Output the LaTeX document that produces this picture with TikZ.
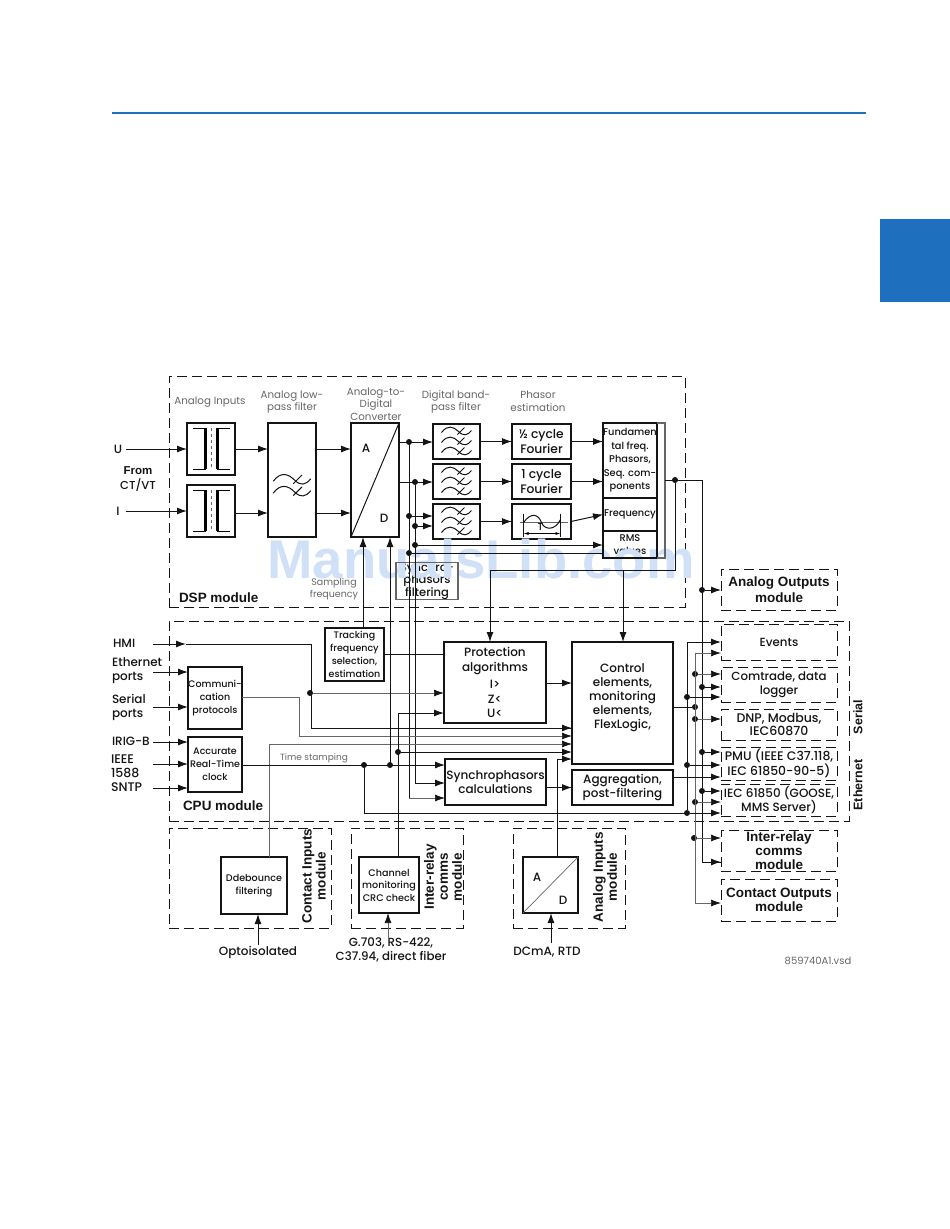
\documentclass[tikz,border=0pt]{standalone}
\usepackage{fontspec}
\usepackage{xcolor}
\usepackage{tikz}
\usetikzlibrary{arrows.meta,positioning}
\setmainfont{Poppins Medium}
\newfontfamily\lightfont{Poppins}
\newfontfamily\headfont{Liberation Sans}
\definecolor{navy}{HTML}{1F6FBF}
\definecolor{ink}{HTML}{141414}
\definecolor{wmarkblue}{HTML}{CFE0F7}
\definecolor{soft}{HTML}{666666}
\newcommand{\tildeat}[2]{%
  \draw[wave,shift={(#1,#2)}] (-15,1) .. controls (-9,-7) and (-3,-5) .. (2,0)
    .. controls (7,5) and (11,4) .. (15,-1) (1,3) -- (8,-4);}
\begin{document}
\begin{tikzpicture}[
  x=1pt,y=-1pt,
  inner sep=0pt,outer sep=0pt,
  node distance=10pt and 16pt,
  box/.style={draw=ink,line width=1.4pt,fill=white,align=center,text=ink,
    font=\fontsize{12}{14}\selectfont},
  smallbox/.style={box,font=\fontsize{9.5}{13}\selectfont},
  tinybox/.style={box,font=\fontsize{9.6}{12.5}\selectfont},
  plain/.style={align=center,text=ink,font=\fontsize{12}{14}\selectfont},
  title/.style={align=center,text=soft,font=\lightfont\fontsize{10.3}{12.5}\selectfont},
  modlabel/.style={align=center,text=ink,font=\headfont\bfseries\fontsize{13.5}{14}\selectfont},
  module/.style={draw=ink,dash pattern=on 10pt off 5pt,line width=.8pt},
  outbox/.style={module,align=center,minimum width=116pt,text=ink,
    font=\fontsize{11.8}{13.5}\selectfont},
  modbox/.style={outbox,font=\headfont\bfseries\fontsize{13.5}{14}\selectfont},
  arr/.style={-{Latex[length=10pt,width=7pt]},line width=1pt,draw=ink},
  thinarr/.style={arr,line width=.7pt,draw=soft,arrows={-{Latex[length=10pt,width=7pt,color=ink]}}},
  wire/.style={line width=1pt,draw=ink},
  thinwire/.style={line width=.7pt,draw=soft},
  wave/.style={line width=1pt,draw=ink},
  dot/.style={circle,fill=ink,minimum size=6pt}
]
\useasboundingbox (0,0) rectangle (950,1229);
\node[fill=navy,minimum width=70pt,minimum height=83pt] (tab) at (915,260.5) {};
\draw[navy,line width=1.6pt] (112,113) coordinate (ruleL) -- (866,113) coordinate (ruleR);

% module frames
\node[module,minimum width=516pt,minimum height=231pt] (dsp) at (427,491.5) {};
\node[module,minimum width=680pt,minimum height=200pt] (cpu) at (509,721) {};
\node[module,minimum width=162pt,minimum height=100pt] (continp) at (250,878) {};
\node[module,minimum width=112pt,minimum height=100pt] (interinp) at (407,878) {};
\node[module,minimum width=112pt,minimum height=100pt] (anainp) at (569,878) {};

% analog path
\node[box,minimum width=48pt,minimum height=52pt] (transu) at (211,449) {};
\node[box,minimum width=48pt,minimum height=52pt,below=of transu] (transi) {};
\node[box,minimum width=48pt,minimum height=114pt] (lowpass) at (292,480) {};
\node[box,minimum width=48pt,minimum height=114pt] (adc) at (375,480) {};
\node[box,minimum width=47pt,minimum height=35pt] (band1) at (456.5,441.5) {};
\node[box,minimum width=47pt,minimum height=35pt,below=5pt of band1] (band2) {};
\node[box,minimum width=47pt,minimum height=35pt,below=5pt of band2] (band3) {};
\node[box,minimum width=59pt,minimum height=35pt,font=\fontsize{12.3}{15}\selectfont] (half) at (541.5,441.5) {½ cycle\\Fourier};
\node[box,minimum width=59pt,minimum height=35pt,below=5pt of half,font=\fontsize{12.3}{15}\selectfont] (full) {1 cycle\\Fourier};
\node[box,minimum width=59pt,minimum height=35pt,below=5pt of full] (period) {};
\node[smallbox,minimum width=54pt,minimum height=75pt,font=\fontsize{9.8}{13.5}\selectfont] (fund) at (630,460.5) {Fundamen\\tal freq.\\Phasors,\\Seq. com-\\ponents};
\node[smallbox,minimum width=54pt,minimum height=33pt,below=0pt of fund,font=\fontsize{9.8}{13.5}\selectfont] (freq) {Frequency};
\node[smallbox,minimum width=54pt,minimum height=27pt,below=0pt of freq,font=\fontsize{9.8}{13.5}\selectfont] (rms) {RMS\\values};
\node[box,minimum width=62pt,minimum height=36pt,draw=soft,font=\fontsize{11.5}{12.6}\selectfont] (synfilt) at (427,581) {Synchro-\\phasors\\filtering};

% watermark
\node[text=wmarkblue,font=\headfont\bfseries\fontsize{54.5}{60}\selectfont] (wmark) at (481,559) {ManualsLib.com};
\draw[draw=soft,line width=1.3pt] (synfilt.south west) rectangle (synfilt.north east);
\draw[draw=ink,line width=1.4pt] (rms.north west) rectangle (rms.south east);
\draw[draw=soft,line width=1.8pt] (fund.north east) -- (665,423) coordinate (fundNE) -- (665,558) coordinate (fundSE) -- (rms.south east);

% cpu boxes
\node[smallbox,minimum width=59pt,minimum height=53pt] (track) at (354.5,654.5) {Tracking\\frequency\\selection,\\estimation};
\node[smallbox,minimum width=54pt,minimum height=62pt] (comm) at (215,698) {Communi-\\cation\\protocols};
\node[smallbox,minimum width=54pt,minimum height=55pt] (rtc) at (215,764.5) {Accurate\\Real-Time\\clock};
\node[box,minimum width=102pt,minimum height=81pt,font=\fontsize{12}{14.5}\selectfont] (prot) at (495,682.5) {Protection\\algorithms\\[3pt]I>\\Z<\\U<};
\node[box,minimum width=101pt,minimum height=122pt] (ctrl) at (622.5,703) {Control\\elements,\\monitoring\\elements,\\FlexLogic,\\[-1pt]};
\node[box,minimum width=101pt,minimum height=46pt] (sync) at (495.5,782) {Synchrophasors\\calculations};
\node[box,minimum width=101pt,minimum height=35pt] (aggr) at (622.5,787.5) {Aggregation,\\post-filtering};

% input modules
\node[tinybox,minimum width=66pt,minimum height=57pt] (debounce) at (254,885.5) {Ddebounce\\filtering};
\node[tinybox,minimum width=60pt,minimum height=56pt] (channel) at (389,885) {Channel\\monitoring\\CRC check};
\node[box,minimum width=55pt,minimum height=56pt] (adc2) at (550.5,885) {};

% outputs
\node[modbox,minimum height=41pt,font=\headfont\bfseries\fontsize{13.5}{16.5}\selectfont] (anaout) at (779,589.5) {Analog Outputs\\module};
\node[outbox,minimum height=36pt] (events) at (779,642) {Events};
\node[outbox,minimum height=35pt] (comtrade) at (779,684.5) {Comtrade, data\\logger};
\node[outbox,minimum height=31pt,font=\fontsize{12.5}{13.5}\selectfont] (dnp) at (779,724.5) {DNP, Modbus,\\IEC60870};
\node[outbox,minimum height=33pt,font=\fontsize{12.4}{13.5}\selectfont] (pmu) at (779,763.5) {PMU (IEEE C37.118,\\IEC 61850-90-5)};
\node[outbox,minimum height=32pt,font=\fontsize{12}{13.5}\selectfont] (iec) at (779,800) {IEC 61850 (GOOSE,\\MMS Server)};
\node[modbox,minimum height=41pt] (interout) at (779,850.5) {Inter-relay\\comms\\module};
\node[modbox,minimum height=42pt] (contout) at (779,900) {Contact Outputs\\module};

% labels
\node[plain] (lblu) at (118,449) {U};
\node[plain] (lbli) at (118,511) {I};
\node[plain,font=\fontsize{11.5}{15.5}\selectfont] (lblct) at (138,479) {{\headfont\bfseries From}\\CT/VT};
\node[title] (t1) at (210,402) {Analog Inputs};
\node[title] (t2) at (292,402) {Analog low-\\pass filter};
\node[title] (t3) at (376,404) {Analog-to-\\Digital\\Converter};
\node[title] (t4) at (456,402) {Digital band-\\pass filter};
\node[title] (t5) at (538,401) {Phasor\\estimation};
\node[title,font=\lightfont\fontsize{9.5}{11.5}\selectfont] (samp) at (334,589) {Sampling\\frequency};
\node[modlabel,anchor=west] (lbldsp) at (179,598) {DSP module};
\node[modlabel,anchor=west] (lblcpu) at (183,806) {CPU module};
\node[plain,anchor=west] (hmi) at (113,643) {HMI};
\node[plain,anchor=west,align=left] (eth) at (112,671) {Ethernet\\ports};
\node[plain,anchor=west,align=left] (ser) at (112,707) {Serial\\ports};
\node[plain,anchor=west] (irig) at (112,741) {IRIG-B};
\node[plain,anchor=west,align=left,font=\fontsize{12.5}{14}\selectfont] (ieee) at (111,773) {IEEE\\1588\\SNTP};
\node[title,font=\lightfont\fontsize{9}{11}\selectfont] (stamp) at (314,758) {Time stamping};
\node[modlabel,rotate=90] (lblci) at (314,876) {Contact Inputs\\module};
\node[modlabel,rotate=90] (lblir) at (443,877) {Inter-relay\\comms\\module};
\node[modlabel,rotate=90] (lblai) at (605,877) {Analog Inputs\\module};
\node[modlabel,rotate=90,font=\headfont\bfseries\fontsize{12.5}{14}\selectfont] (lblser) at (858,717) {Serial};
\node[modlabel,rotate=90,font=\headfont\bfseries\fontsize{12.5}{14}\selectfont] (lbleth) at (858,785) {Ethernet};
\node[plain] (opto) at (258,952) {Optoisolated};
\node[plain,font=\fontsize{11.8}{14}\selectfont] (g703) at (391,950) {G.703, RS-422,\\C37.94, direct fiber};
\node[plain] (dcma) at (547,952) {DCmA, RTD};
\node[title,font=\lightfont\fontsize{10}{11}\selectfont] (vsd) at (818,961) {859740A1.vsd};

% symbols inside boxes
\foreach \n in {transu,transi} {
  \begin{scope}[shift={(\n.center)}]
    \draw[line width=1pt] (-18,-21) -- (-5,-21) (-18,20) -- (-5,20);
    \draw[line width=3pt] (-6,-21) -- (-6,20);
    \draw[line width=1pt] (19,-21) -- (6,-21) (19,20) -- (6,20);
    \draw[line width=3pt] (6,-21) -- (6,20);
    \draw[thinwire,dashed] (0,-21) -- (0,20);
  \end{scope}
}
\begin{scope}[shift={(lowpass.center)},scale=1.25]
  \tildeat{0}{0}
  \tildeat{0}{9.5}
\end{scope}
\foreach \n in {band1,band2,band3} {
  \begin{scope}[shift={(\n.center)}]
    \tildeat{0}{-10}
    \tildeat{0}{0}
    \tildeat{0}{10}
  \end{scope}
}
\draw[wire] (adc.south west) -- (adc.north east);
\node[plain] (adca) at (366,448) {A};
\node[plain] (adcd) at (384,518) {D};
\draw[thinwire] (adc2.south west) -- (adc2.north east);
\node[plain] (ad2a) at (537,877) {A};
\node[plain] (ad2d) at (563,900) {D};
\begin{scope}[shift={(period.center)}]
  \draw[thinwire] (-22,1) -- (26,1);
  \draw[wire] (-18,1) .. controls (-10,-10) and (-3,-7) .. (0,1) .. controls (3,9) and (14,9) .. (19,-2);
  \draw[wire] (-18,-8) -- (-18,15) (19,-8) -- (19,15);
  \draw[line width=.8pt,{Latex[length=5pt,width=3pt]}-{Latex[length=5pt,width=3pt]}] (-18,12) -- (19,12);
  \node[font=\fontsize{10}{10}\selectfont,text=ink] (periodt) at (-1,6) {T};
\end{scope}

% signal junctions
\node[dot] (j1) at (409,442) {};
\node[dot] (j2) at (415,482) {};
\node[dot] (j3) at (409,516) {};
\node[dot] (j4) at (415,526) {};
\node[dot] (j5) at (415,545) {};
\node[dot] (j6) at (409,553) {};
\node[dot] (j7) at (675,480) {};
\coordinate (c1) at (675,570);
\coordinate (c2) at (490,570);
\coordinate (c3) at (623,570);
\coordinate (c4) at (702,480);
\coordinate (c5) at (409,798);
\coordinate (c6) at (415,783);

% analog arrows
\draw[arr] (lblu.east)++(4,0) -- (transu.west);
\draw[arr] (lbli.east)++(6,0) -- (transi.west);
\draw[arr] (transu.east) -- (lowpass.west |- transu.east);
\draw[arr] (transi.east) ++(0,2) -- (lowpass.west |- 0,513);
\draw[arr] (lowpass.east |- transu.east) -- (adc.west |- transu.east);
\draw[arr] (lowpass.east |- 0,513) -- (adc.west |- 0,513);
\draw[arr] (adc.east |- j1) -- (band1.west |- j1);
\draw[arr] (adc.east |- j2) -- (band2.west |- j2);
\draw[arr] (j3) -- (band3.west |- j3);
\draw[arr] (j4) -- (band3.west |- j4);
\draw[arr] (band1.east) -- (half.west);
\draw[arr] (band2.east) -- (full.west);
\draw[arr] (band3.east) -- (period.west);
\draw[arr] (half.east) -- (fund.west |- half.east);
\draw[arr] (full.east) -- (fund.west |- full.east);
\draw[arr] (period.east) -- (freq.west);
\draw[arr] (j5) -- (rms.west |- j5);
\draw[wire] (j6) -- (rms.west |- j6);
\draw[wire] (j1) -- (c5);
\draw[wire] (j2) -- (c6);
\draw[wire] (fundNE |- j7) -- (c4);
\draw[wire] (j7) -- (c1) -- (c2);
\draw[arr] (c2) -- (prot.north -| c2);
\draw[arr] (c3) -- (ctrl.north -| c3);

% cpu wiring
\node[dot] (j8) at (310,693) {};
\node[dot] (j9) at (364,765) {};
\node[dot] (j10) at (390,765) {};
\node[dot] (j11) at (398,752) {};
\draw[arr] (153,644) coordinate (hmiend) -- (186,644) coordinate (hmiin);
\draw[wire] (hmiin) -- (311,644) |- (ctrl.west |- 0,728);
\draw[arr] (311,728) -- (ctrl.west |- 0,728);
\draw[thinarr] (j8) -- (prot.west |- j8);
\draw[arr] (153,672) coordinate (ethend) -- (comm.west |- ethend);
\draw[arr] (153,707) coordinate (serend) -- (comm.west |- serend);
\draw[arr] (153,742) coordinate (irigend) -- (rtc.west |- irigend);
\draw[arr] (153,764) coordinate (ieeend) -- (rtc.west |- ieeend);
\draw[arr] (153,788) coordinate (sntpend) -- (rtc.west |- sntpend);
\draw[thinwire] (comm.east) ++(0,-1) -- (299,697) -- (299,736) coordinate (commout);
\draw[thinarr] (commout) -- (ctrl.west |- commout);
\draw[thinwire] (debounce.north -| 269,0) -- (269,744) coordinate (contout2);
\draw[thinarr] (contout2) -- (ctrl.west |- contout2);
\draw[arr] (channel.north -| j11) -- (398,713) coordinate (chanup) -- (prot.west |- chanup);
\draw[arr] (j11) -- (ctrl.west |- j11);
\draw[arr] (rtc.east |- j9) -- (sync.west |- j9);
\draw[arr] (j10) -- (adc.south -| j10);
\draw[arr] (track.north -| 363,0) -- (adc.south -| 363,0);
\draw[wire] (track.east |- 0,654) -- (prot.west |- 0,654);
\draw[wire] (j9) |- (687,813);
\draw[arr] (c6) -- (sync.west |- c6);
\draw[thinarr] (c5) -- (sync.west |- c5);
\draw[arr] (prot.east |- 0,683) -- (ctrl.west |- 0,683);
\draw[arr] (sync.east |- aggr.west) -- (aggr.west);
\draw[wire] (adc2.north -| 557,0) -- (557,759) coordinate (adup);
\draw[arr] (adup) -- (ctrl.west |- adup);

% output busses
\node[dot] (k1) at (702,590) {};
\node[dot] (k2) at (702,687) {};
\node[dot] (k3) at (702,752) {};
\node[dot] (k4) at (702,791) {};
\node[dot] (k5) at (695,674) {};
\node[dot] (k6) at (695,707) {};
\node[dot] (k7) at (695,719) {};
\node[dot] (k8) at (695,802) {};
\node[dot] (k9) at (694,838) {};
\node[dot] (k10) at (687,697) {};
\node[dot] (k11) at (687,765) {};
\node[dot] (k12) at (687,813) {};
\draw[wire] (c4) |- (interout.west |- 0,862) coordinate (bus1);
\draw[thinwire] (695,653) coordinate (bus2a) -- (695,903) coordinate (bus2b);
\draw[wire] (687,642) coordinate (bus3a) -- (k12);
\draw[arr] (702,862) -- (bus1);
\draw[thinarr] (bus2a) -- (events.west |- bus2a);
\draw[arr] (bus3a) -- (events.west |- bus3a);
\draw[thinarr] (bus2b) -- (contout.west |- bus2b);
\foreach \j/\b in {k1/anaout,k2/comtrade,k3/pmu,k4/iec,k10/comtrade,k11/pmu,k12/iec} {
  \draw[arr] (\j) -- (\b.west |- \j);
}
\foreach \j/\b in {k5/comtrade,k7/dnp,k8/iec,k9/interout} {
  \draw[thinarr] (\j) -- (\b.west |- \j);
}
\draw[wire] (ctrl.east |- k6) -- (k6);
\draw[arr] (aggr.east |- 0,777) -- (pmu.west |- 0,777);

% feeds from below
\draw[arr] (258,945) coordinate (optoup) -- (debounce.south -| optoup);
\draw[thinarr] (388,943) coordinate (g703up) -- (channel.south -| g703up);
\draw[arr] (551,943) coordinate (dcup) -- (adc2.south -| dcup);
\end{tikzpicture}
\end{document}
